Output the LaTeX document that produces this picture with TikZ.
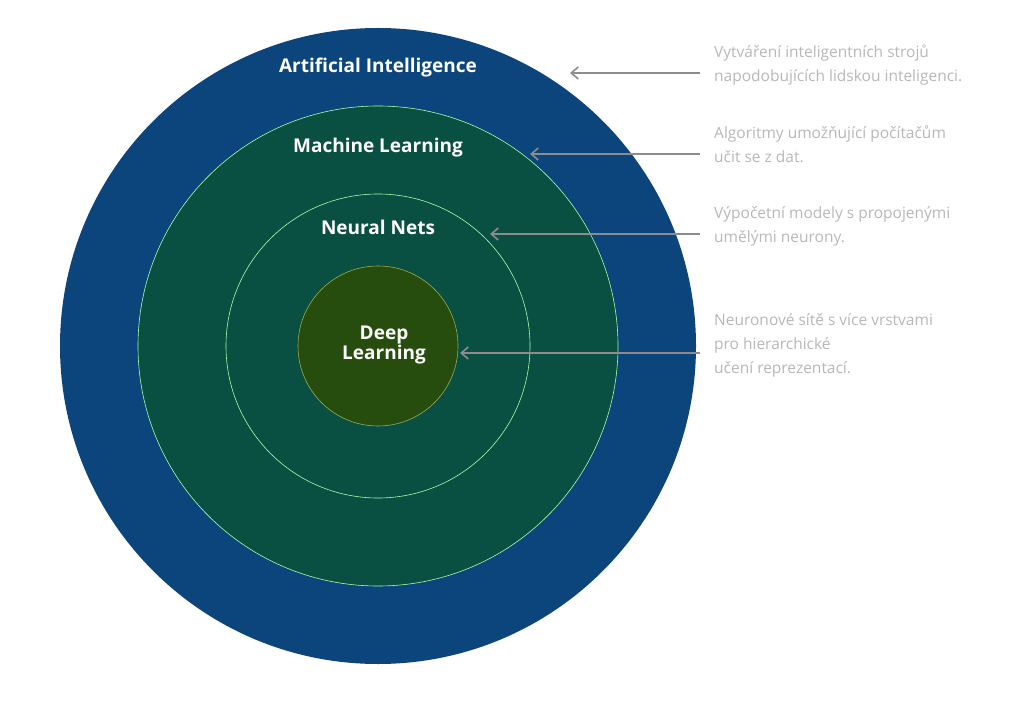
\documentclass[tikz,border=0pt]{standalone}
\usepackage{fontspec}
\usetikzlibrary{arrows.meta}
\setmainfont{Open Sans}
\begin{document}
\begin{tikzpicture}[x=1pt,y=-1pt,
  ring/.style={draw=green!35!white,line width=0.6pt},
  lab/.style={text=white,font=\fontsize{19}{22}\selectfont\bfseries,align=center},
  desc/.style={text=black!28,font=\fontsize{15.5}{24}\selectfont,align=left,anchor=north west,inner sep=0pt},
  arr/.style={draw=black!45,line width=1.6pt,-{Straight Barb[length=7pt,width=12pt]}}]
\useasboundingbox (0,0) rectangle (1024,708);
\fill[white] (0,0) rectangle (1024,708);
\node[circle,fill={rgb,255:red,12;green,68;blue,124},minimum size=636pt,inner sep=0pt] (ai) at (378,346) {};
\node[circle,ring,fill={rgb,255:red,10;green,80;blue,66},minimum size=480pt,inner sep=0pt] (ml) at (378,346) {};
\node[circle,ring,fill={rgb,255:red,10;green,80;blue,66},minimum size=304pt,inner sep=0pt] (nn) at (378,346) {};
\node[circle,draw={rgb,255:red,150;green,170;blue,80},line width=0.6pt,fill={rgb,255:red,38;green,77;blue,14},minimum size=160pt,inner sep=0pt] (dl) at (378,346) {};
\node[lab] (tai) at (378,68) {Artificial Intelligence};
\node[lab] (tml) at (378,148) {Machine Learning};
\node[lab] (tnn) at (378,227) {Neural Nets};
\node[lab] (tdl) at (384,345) {Deep\\[-2pt]Learning};
\node[desc] (d1) at (714,45) {Vytváření inteligentních strojů\\napodobujících lidskou inteligenci.};
\node[desc] (d2) at (714,126) {Algoritmy umožňující počítačům\\učit se z dat.};
\node[desc] (d3) at (714,206) {Výpočetní modely s propojenými\\umělými neurony.};
\node[desc] (d4) at (714,313) {Neuronové sítě s více vrstvami\\pro hierarchické\\učení reprezentací.};
\coordinate (a1) at (700,73); \coordinate (b1) at (570,73);
\coordinate (a2) at (700,154); \coordinate (b2) at (530,154);
\coordinate (a3) at (700,234); \coordinate (b3) at (490,234);
\coordinate (a4) at (700,353); \coordinate (b4) at (460,353);
\draw[arr] (a1) -- (b1);
\draw[arr] (a2) -- (b2);
\draw[arr] (a3) -- (b3);
\draw[arr] (a4) -- (b4);
\end{tikzpicture}
\end{document}
